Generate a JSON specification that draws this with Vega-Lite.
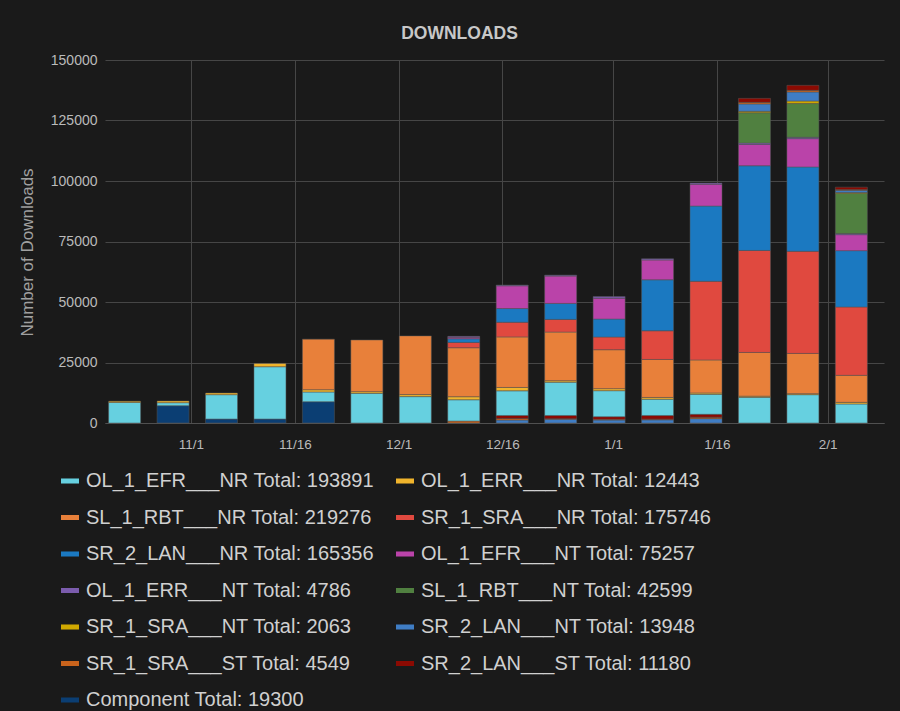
{
  "$schema": "https://vega.github.io/schema/vega-lite/v6.json",
  "width": 779,
  "height": 363,
  "autosize": {"type": "none"},
  "padding": {"left": 105, "top": 60, "right": 16, "bottom": 288},
  "background": "#1a1a1a",
  "title": {"text": "DOWNLOADS", "anchor": "middle", "frame": "group", "dx": -35, "offset": 11, "fontSize": 17.5, "fontWeight": "bold", "color": "#c8c8c8", "font": "Liberation Sans"},
  "data": {"values": [
    {"date": "2015-10-22T10:00:00Z", "series": "OL_1_EFR___NR", "value": 8500},
    {"date": "2015-10-22T10:00:00Z", "series": "OL_1_ERR___NR", "value": 500},
    {"date": "2015-10-29T10:00:00Z", "series": "Component", "value": 7150},
    {"date": "2015-10-29T10:00:00Z", "series": "OL_1_EFR___NR", "value": 1250},
    {"date": "2015-10-29T10:00:00Z", "series": "OL_1_ERR___NR", "value": 700},
    {"date": "2015-11-05T10:00:00Z", "series": "Component", "value": 1650},
    {"date": "2015-11-05T10:00:00Z", "series": "OL_1_EFR___NR", "value": 10050},
    {"date": "2015-11-05T10:00:00Z", "series": "OL_1_ERR___NR", "value": 700},
    {"date": "2015-11-12T10:00:00Z", "series": "Component", "value": 1650},
    {"date": "2015-11-12T10:00:00Z", "series": "OL_1_EFR___NR", "value": 21600},
    {"date": "2015-11-12T10:00:00Z", "series": "OL_1_ERR___NR", "value": 1350},
    {"date": "2015-11-19T10:00:00Z", "series": "Component", "value": 8800},
    {"date": "2015-11-19T10:00:00Z", "series": "OL_1_EFR___NR", "value": 4000},
    {"date": "2015-11-19T10:00:00Z", "series": "OL_1_ERR___NR", "value": 950},
    {"date": "2015-11-19T10:00:00Z", "series": "SL_1_RBT___NR", "value": 20900},
    {"date": "2015-11-26T10:00:00Z", "series": "OL_1_EFR___NR", "value": 12250},
    {"date": "2015-11-26T10:00:00Z", "series": "OL_1_ERR___NR", "value": 700},
    {"date": "2015-11-26T10:00:00Z", "series": "SL_1_RBT___NR", "value": 21350},
    {"date": "2015-12-03T10:00:00Z", "series": "OL_1_EFR___NR", "value": 10900},
    {"date": "2015-12-03T10:00:00Z", "series": "OL_1_ERR___NR", "value": 850},
    {"date": "2015-12-03T10:00:00Z", "series": "SL_1_RBT___NR", "value": 24250},
    {"date": "2015-12-10T10:00:00Z", "series": "SR_1_SRA___ST", "value": 800},
    {"date": "2015-12-10T10:00:00Z", "series": "OL_1_EFR___NR", "value": 8800},
    {"date": "2015-12-10T10:00:00Z", "series": "OL_1_ERR___NR", "value": 1250},
    {"date": "2015-12-10T10:00:00Z", "series": "SL_1_RBT___NR", "value": 20250},
    {"date": "2015-12-10T10:00:00Z", "series": "SR_1_SRA___NR", "value": 2200},
    {"date": "2015-12-10T10:00:00Z", "series": "SR_2_LAN___NR", "value": 1500},
    {"date": "2015-12-10T10:00:00Z", "series": "OL_1_EFR___NT", "value": 600},
    {"date": "2015-12-10T10:00:00Z", "series": "OL_1_ERR___NT", "value": 400},
    {"date": "2015-12-17T10:00:00Z", "series": "SR_2_LAN___NT", "value": 1200},
    {"date": "2015-12-17T10:00:00Z", "series": "SR_1_SRA___ST", "value": 700},
    {"date": "2015-12-17T10:00:00Z", "series": "SR_2_LAN___ST", "value": 1200},
    {"date": "2015-12-17T10:00:00Z", "series": "OL_1_EFR___NR", "value": 10200},
    {"date": "2015-12-17T10:00:00Z", "series": "OL_1_ERR___NR", "value": 1380},
    {"date": "2015-12-17T10:00:00Z", "series": "SL_1_RBT___NR", "value": 20900},
    {"date": "2015-12-17T10:00:00Z", "series": "SR_1_SRA___NR", "value": 6060},
    {"date": "2015-12-17T10:00:00Z", "series": "SR_2_LAN___NR", "value": 5650},
    {"date": "2015-12-17T10:00:00Z", "series": "OL_1_EFR___NT", "value": 9400},
    {"date": "2015-12-17T10:00:00Z", "series": "OL_1_ERR___NT", "value": 300},
    {"date": "2015-12-24T10:00:00Z", "series": "SR_2_LAN___NT", "value": 1600},
    {"date": "2015-12-24T10:00:00Z", "series": "SR_1_SRA___ST", "value": 200},
    {"date": "2015-12-24T10:00:00Z", "series": "SR_2_LAN___ST", "value": 1300},
    {"date": "2015-12-24T10:00:00Z", "series": "OL_1_EFR___NR", "value": 13770},
    {"date": "2015-12-24T10:00:00Z", "series": "OL_1_ERR___NR", "value": 600},
    {"date": "2015-12-24T10:00:00Z", "series": "SL_1_RBT___NR", "value": 20100},
    {"date": "2015-12-24T10:00:00Z", "series": "SR_1_SRA___NR", "value": 5230},
    {"date": "2015-12-24T10:00:00Z", "series": "SR_2_LAN___NR", "value": 6600},
    {"date": "2015-12-24T10:00:00Z", "series": "OL_1_EFR___NT", "value": 11300},
    {"date": "2015-12-24T10:00:00Z", "series": "OL_1_ERR___NT", "value": 400},
    {"date": "2015-12-31T10:00:00Z", "series": "SR_2_LAN___NT", "value": 1200},
    {"date": "2015-12-31T10:00:00Z", "series": "SR_1_SRA___ST", "value": 300},
    {"date": "2015-12-31T10:00:00Z", "series": "SR_2_LAN___ST", "value": 1100},
    {"date": "2015-12-31T10:00:00Z", "series": "OL_1_EFR___NR", "value": 10750},
    {"date": "2015-12-31T10:00:00Z", "series": "OL_1_ERR___NR", "value": 830},
    {"date": "2015-12-31T10:00:00Z", "series": "SL_1_RBT___NR", "value": 16100},
    {"date": "2015-12-31T10:00:00Z", "series": "SR_1_SRA___NR", "value": 5230},
    {"date": "2015-12-31T10:00:00Z", "series": "SR_2_LAN___NR", "value": 7440},
    {"date": "2015-12-31T10:00:00Z", "series": "OL_1_EFR___NT", "value": 8600},
    {"date": "2015-12-31T10:00:00Z", "series": "OL_1_ERR___NT", "value": 700},
    {"date": "2016-01-07T10:00:00Z", "series": "SR_2_LAN___NT", "value": 1300},
    {"date": "2016-01-07T10:00:00Z", "series": "SR_1_SRA___ST", "value": 300},
    {"date": "2016-01-07T10:00:00Z", "series": "SR_2_LAN___ST", "value": 1500},
    {"date": "2016-01-07T10:00:00Z", "series": "OL_1_EFR___NR", "value": 6750},
    {"date": "2016-01-07T10:00:00Z", "series": "OL_1_ERR___NR", "value": 690},
    {"date": "2016-01-07T10:00:00Z", "series": "SL_1_RBT___NR", "value": 15700},
    {"date": "2016-01-07T10:00:00Z", "series": "SR_1_SRA___NR", "value": 11850},
    {"date": "2016-01-07T10:00:00Z", "series": "SR_2_LAN___NR", "value": 21070},
    {"date": "2016-01-07T10:00:00Z", "series": "OL_1_EFR___NT", "value": 8200},
    {"date": "2016-01-07T10:00:00Z", "series": "OL_1_ERR___NT", "value": 500},
    {"date": "2016-01-14T10:00:00Z", "series": "SR_2_LAN___NT", "value": 1800},
    {"date": "2016-01-14T10:00:00Z", "series": "SR_1_SRA___ST", "value": 600},
    {"date": "2016-01-14T10:00:00Z", "series": "SR_2_LAN___ST", "value": 1200},
    {"date": "2016-01-14T10:00:00Z", "series": "OL_1_EFR___NR", "value": 8260},
    {"date": "2016-01-14T10:00:00Z", "series": "OL_1_ERR___NR", "value": 550},
    {"date": "2016-01-14T10:00:00Z", "series": "SL_1_RBT___NR", "value": 13640},
    {"date": "2016-01-14T10:00:00Z", "series": "SR_1_SRA___NR", "value": 32500},
    {"date": "2016-01-14T10:00:00Z", "series": "SR_2_LAN___NR", "value": 31100},
    {"date": "2016-01-14T10:00:00Z", "series": "OL_1_EFR___NT", "value": 9000},
    {"date": "2016-01-14T10:00:00Z", "series": "OL_1_ERR___NT", "value": 500},
    {"date": "2016-01-21T10:00:00Z", "series": "OL_1_EFR___NR", "value": 10600},
    {"date": "2016-01-21T10:00:00Z", "series": "OL_1_ERR___NR", "value": 500},
    {"date": "2016-01-21T10:00:00Z", "series": "SL_1_RBT___NR", "value": 18050},
    {"date": "2016-01-21T10:00:00Z", "series": "SR_1_SRA___NR", "value": 42150},
    {"date": "2016-01-21T10:00:00Z", "series": "SR_2_LAN___NR", "value": 35000},
    {"date": "2016-01-21T10:00:00Z", "series": "OL_1_EFR___NT", "value": 8800},
    {"date": "2016-01-21T10:00:00Z", "series": "OL_1_ERR___NT", "value": 600},
    {"date": "2016-01-21T10:00:00Z", "series": "SL_1_RBT___NT", "value": 12500},
    {"date": "2016-01-21T10:00:00Z", "series": "SR_1_SRA___NT", "value": 600},
    {"date": "2016-01-21T10:00:00Z", "series": "SR_2_LAN___NT", "value": 3000},
    {"date": "2016-01-21T10:00:00Z", "series": "SR_1_SRA___ST", "value": 700},
    {"date": "2016-01-21T10:00:00Z", "series": "SR_2_LAN___ST", "value": 1650},
    {"date": "2016-01-28T10:00:00Z", "series": "OL_1_EFR___NR", "value": 11700},
    {"date": "2016-01-28T10:00:00Z", "series": "OL_1_ERR___NR", "value": 400},
    {"date": "2016-01-28T10:00:00Z", "series": "SL_1_RBT___NR", "value": 16650},
    {"date": "2016-01-28T10:00:00Z", "series": "SR_1_SRA___NR", "value": 42200},
    {"date": "2016-01-28T10:00:00Z", "series": "SR_2_LAN___NR", "value": 34850},
    {"date": "2016-01-28T10:00:00Z", "series": "OL_1_EFR___NT", "value": 11700},
    {"date": "2016-01-28T10:00:00Z", "series": "OL_1_ERR___NT", "value": 600},
    {"date": "2016-01-28T10:00:00Z", "series": "SL_1_RBT___NT", "value": 13900},
    {"date": "2016-01-28T10:00:00Z", "series": "SR_1_SRA___NT", "value": 1050},
    {"date": "2016-01-28T10:00:00Z", "series": "SR_2_LAN___NT", "value": 3700},
    {"date": "2016-01-28T10:00:00Z", "series": "SR_1_SRA___ST", "value": 700},
    {"date": "2016-01-28T10:00:00Z", "series": "SR_2_LAN___ST", "value": 2070},
    {"date": "2016-02-04T10:00:00Z", "series": "OL_1_EFR___NR", "value": 7850},
    {"date": "2016-02-04T10:00:00Z", "series": "OL_1_ERR___NR", "value": 690},
    {"date": "2016-02-04T10:00:00Z", "series": "SL_1_RBT___NR", "value": 11160},
    {"date": "2016-02-04T10:00:00Z", "series": "SR_1_SRA___NR", "value": 28240},
    {"date": "2016-02-04T10:00:00Z", "series": "SR_2_LAN___NR", "value": 23280},
    {"date": "2016-02-04T10:00:00Z", "series": "OL_1_EFR___NT", "value": 6600},
    {"date": "2016-02-04T10:00:00Z", "series": "OL_1_ERR___NT", "value": 500},
    {"date": "2016-02-04T10:00:00Z", "series": "SL_1_RBT___NT", "value": 16530},
    {"date": "2016-02-04T10:00:00Z", "series": "SR_1_SRA___NT", "value": 400},
    {"date": "2016-02-04T10:00:00Z", "series": "SR_2_LAN___NT", "value": 900},
    {"date": "2016-02-04T10:00:00Z", "series": "SR_1_SRA___ST", "value": 300},
    {"date": "2016-02-04T10:00:00Z", "series": "SR_2_LAN___ST", "value": 1000}
  ]},
  "transform": [
    {"calculate": "datum.series === 'Component' ? -100 : (((time(datum.date) < utc(2016, 0, 18)) && indexof(['SR_2_LAN___NT', 'SR_1_SRA___ST', 'SR_2_LAN___ST'], datum.series) >= 0) ? -50 : 0) + indexof(['OL_1_EFR___NR', 'OL_1_ERR___NR', 'SL_1_RBT___NR', 'SR_1_SRA___NR', 'SR_2_LAN___NR', 'OL_1_EFR___NT', 'OL_1_ERR___NT', 'SL_1_RBT___NT', 'SR_1_SRA___NT', 'SR_2_LAN___NT', 'SR_1_SRA___ST', 'SR_2_LAN___ST', 'Component'], datum.series)", "as": "ord"}
  ],
  "mark": {"type": "bar", "size": 32, "stroke": "#555555", "strokeWidth": 1, "strokeOpacity": 0.5},
  "encoding": {
    "x": {
      "field": "date", "type": "temporal",
      "scale": {"type": "utc", "domain": [{"year": 2015, "month": 10, "date": 20, "hours": 7, "minutes": 18, "utc": true}, {"year": 2016, "month": 2, "date": 8, "hours": 9, "minutes": 50, "utc": true}]},
      "axis": {
        "title": null,
        "values": [
          {"year": 2015, "month": 11, "date": 1, "utc": true},
          {"year": 2015, "month": 11, "date": 16, "utc": true},
          {"year": 2015, "month": 12, "date": 1, "utc": true},
          {"year": 2015, "month": 12, "date": 16, "utc": true},
          {"year": 2016, "month": 1, "date": 1, "utc": true},
          {"year": 2016, "month": 1, "date": 16, "utc": true},
          {"year": 2016, "month": 2, "date": 1, "utc": true}
        ],
        "labelExpr": "utcFormat(datum.value, '%-m/%-d')",
        "grid": true, "gridColor": "#464646", "ticks": false,
        "domainColor": "#505050", "labelColor": "#bbbbbb", "labelFontSize": 13.5, "labelPadding": 14
      }
    },
    "y": {
      "field": "value", "type": "quantitative", "stack": "zero",
      "scale": {"domain": [0, 150000]},
      "axis": {
        "title": "Number of Downloads",
        "values": [0, 25000, 50000, 75000, 100000, 125000, 150000],
        "format": "d", "grid": true, "gridColor": "#464646", "domain": false, "ticks": false,
        "labelColor": "#bbbbbb", "labelFontSize": 14, "labelPadding": 8,
        "titleColor": "#a0a0a0", "titleFontSize": 17, "titleFontWeight": "normal", "titlePadding": 14, "titleY": 192
      }
    },
    "color": {
      "field": "series", "type": "nominal",
      "scale": {
        "domain": ["OL_1_EFR___NR", "OL_1_ERR___NR", "SL_1_RBT___NR", "SR_1_SRA___NR", "SR_2_LAN___NR", "OL_1_EFR___NT", "OL_1_ERR___NT", "SL_1_RBT___NT", "SR_1_SRA___NT", "SR_2_LAN___NT", "SR_1_SRA___ST", "SR_2_LAN___ST", "Component"],
        "range": ["#66d0e0", "#f0b42c", "#e8803a", "#e0493f", "#1b79c1", "#ba43a9", "#7b5cad", "#508040", "#d0a800", "#3f7dc4", "#c9631c", "#8b0a02", "#0b3e73"]
      },
      "legend": {
        "orient": "none", "legendX": -45, "legendY": 411, "direction": "horizontal", "columns": 2,
        "title": null, "padding": 0,
        "labelFontSize": 20, "labelColor": "#d0d0d0", "labelLimit": 420, "labelOffset": 6,
        "labelExpr": "datum.label + ' Total: ' + ({'OL_1_EFR___NR': '193891', 'OL_1_ERR___NR': '12443', 'SL_1_RBT___NR': '219276', 'SR_1_SRA___NR': '175746', 'SR_2_LAN___NR': '165356', 'OL_1_EFR___NT': '75257', 'OL_1_ERR___NT': '4786', 'SL_1_RBT___NT': '42599', 'SR_1_SRA___NT': '2063', 'SR_2_LAN___NT': '13948', 'SR_1_SRA___ST': '4549', 'SR_2_LAN___ST': '11180', 'Component': '19300'})[datum.label]",
        "symbolType": "M-1,-0.28H1V0.28H-1Z", "symbolSize": 324, "symbolStrokeWidth": 0,
        "rowPadding": 16.5, "columnPadding": 21
      }
    },
    "order": {"field": "ord", "type": "quantitative", "sort": "ascending"}
  },
  "config": {"view": {"stroke": null}, "font": "Liberation Sans"}
}
